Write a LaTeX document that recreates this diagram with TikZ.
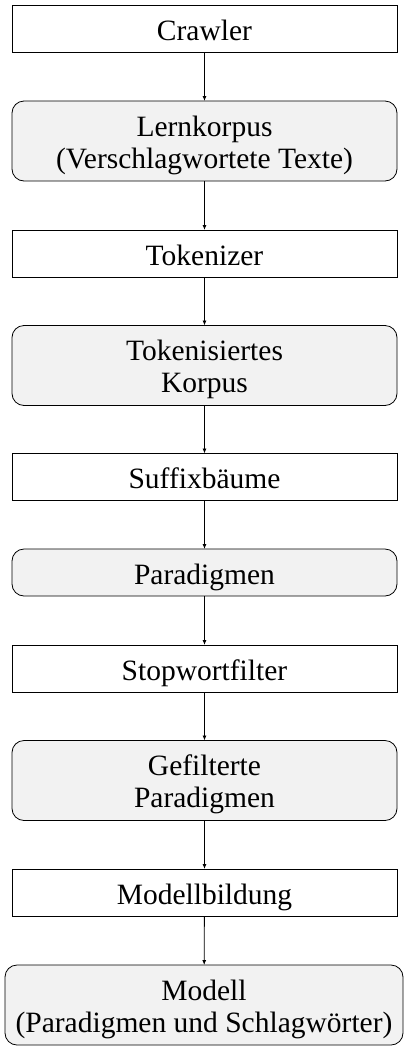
\documentclass[tikz,border=0pt]{standalone}
\usepackage{fontspec}
\setmainfont{Liberation Serif}
\usepackage{xcolor}
\usepackage{tikz}
\usetikzlibrary{shapes,arrows,positioning,arrows.meta}

\begin{document}
\begin{tikzpicture}[
                x=1pt, y=1pt,
                font=\fontsize{29.5pt}{32pt}\selectfont,
                werkzeug/.style={
                    draw, line width=0.8pt,
                    minimum width=385pt, minimum height=47pt,
                    inner sep=0pt, outer sep=0pt, align=center,
                    text height=23pt, text depth=0pt
                },
                daten/.style={
                    werkzeug,
                    fill=gray!10,
                    rounded corners=12pt
                },
                zweizeilig/.style={
                    minimum height=80pt,
                    text height=54pt, text depth=0pt
                },
                pfeil/.style={
                    line width=0.8pt,
                    -{Latex[length=5pt,width=4pt]}
                }
            ]
                \useasboundingbox (0, 0) rectangle (408, -1050);
                \node[werkzeug] (crawler) at (204.5, -28.5) {Crawler};
                \node[daten, zweizeilig] (lernkorpus) at (204.5, -141) {
                    Lernkorpus\\(Verschlagwortete Texte)};
                \node[werkzeug] (tokenizer) at (204.5, -253.5) {Tokenizer};
                \node[daten, zweizeilig] (korpus) at (204.5, -365.5) {
                    Tokenisiertes\\Korpus};
                \node[werkzeug] (suffix) at (204.5, -477) {Suffixbäume};
                \node[daten] (paradigmen) at (204.5, -572.5) {Paradigmen};
                \node[werkzeug] (stopwort) at (204.5, -668.5) {Stopwortfilter};
                \node[daten, zweizeilig] (gefiltert) at (204.5, -780.5) {
                    Gefilterte\\Paradigmen};
                \node[werkzeug] (bildung) at (204.5, -892.5) {Modellbildung};
                \node[daten, zweizeilig, minimum width=398pt]
                    (modell) at (204, -1005) {
                    Modell\\(Paradigmen und Schlagwörter)};
                % Verbindungen
                \draw[pfeil] (crawler) -- (lernkorpus);
                \draw[pfeil] (lernkorpus) -- (tokenizer);
                \draw[pfeil] (tokenizer) -- (korpus);
                \draw[pfeil] (korpus) -- (suffix);
                \draw[pfeil] (suffix) -- (paradigmen);
                \draw[pfeil] (paradigmen) -- (stopwort);
                \draw[pfeil] (stopwort) -- (gefiltert);
                \draw[pfeil] (gefiltert) -- (bildung);
                \draw[pfeil] (bildung) -- (modell);
            \end{tikzpicture}
\end{document}
